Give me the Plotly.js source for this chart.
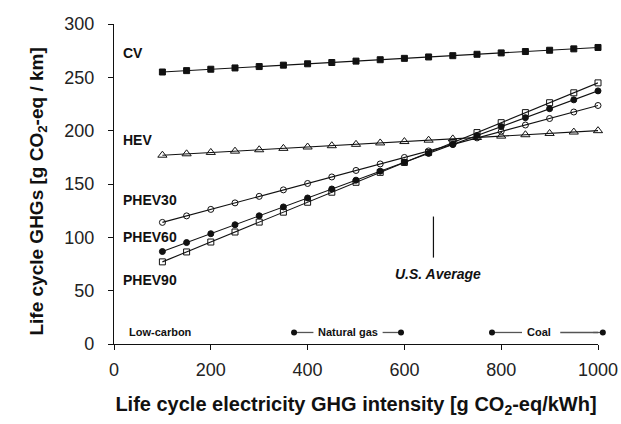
<!DOCTYPE html>
<html><head><meta charset="utf-8">
<script src="https://cdn.plot.ly/plotly-3.0.1.min.js"></script>
<style>html,body{margin:0;padding:0;background:#fff;}#chart{width:621px;height:424px;}</style>
</head><body><div id="chart"></div>
<script>
const intensity = [100,150,200,250,300,350,400,450,500,550,600,650,700,750,800,850,900,950,1000];
const cv     = [255,256.3,257.6,258.8,260.1,261.4,262.7,263.9,265.2,266.5,267.8,269.1,270.3,271.6,272.9,274.2,275.4,276.7,278];
const hev    = [177,178.3,179.6,180.8,182.1,183.4,184.7,185.9,187.2,188.5,189.8,191.1,192.3,193.6,194.9,196.2,197.4,198.7,200];
const phev30 = [114,120.1,126.2,132.3,138.4,144.5,150.5,156.6,162.7,168.8,174.9,181,187.1,193.2,199.3,205.3,211.4,217.5,223.6];
const phev60 = [86.7,95.1,103.4,111.8,120.2,128.5,136.9,145.3,153.6,162,170.4,178.7,187.1,195.5,203.8,212.2,220.6,228.9,237.3];
const phev90 = [77,86.3,95.6,105,114.3,123.6,132.9,142.3,151.6,160.9,170.2,179.6,188.9,198.2,207.5,216.9,226.2,235.5,244.8];
const seriesNames = ['CV','HEV','PHEV30','PHEV60','PHEV90'];
const labelY = [272.5,191,135,100,60];
const usAverage = 660;
const usLine = [81,119.5];
const gasRange = [372,593];
const coalRange = [781,1010];
const xTicks = [0,200,400,600,800,1000];
const yTicks = [0,50,100,150,200,250,300];
const xTitle = '<b>Life cycle electricity GHG intensity [g CO<sub>2</sub>-eq/kWh]</b>';
const yTitle = '<b>Life cycle GHGs [g CO<sub>2</sub>-eq / km]</b>';

const font = 'Liberation Sans, Arial, sans-serif';
const lineStyle = {color:'#111', width:1.1};
function tr(y, sym, size, fill){
  return {x:intensity, y:y, mode:'lines+markers', line:lineStyle,
    marker:{symbol:sym, size:size, color:fill, line:{color:'#111', width:1}},
    cliponaxis:false, showlegend:false, hoverinfo:'skip'};
}
const bandY = 10.8;
const xMax = 1000;
const data = [
  tr(cv,'square',6,'#111'),
  tr(hev,'triangle-up-open',8,'#111'),
  tr(phev30,'circle-open',6,'#111'),
  tr(phev60,'circle',6,'#111'),
  tr(phev90,'square-open',6,'#111'),
  {x:[usAverage,usAverage], y:usLine, mode:'lines', line:{color:'#111',width:1.2}, showlegend:false, hoverinfo:'skip'},
  {x:[gasRange[0],412,null,555,gasRange[1],null,coalRange[0],843,null,922,xMax],
   y:[bandY,bandY,null,bandY,bandY,null,bandY,bandY,null,bandY,bandY],
   mode:'lines', line:{color:'#555',width:1.3}, showlegend:false, hoverinfo:'skip', cliponaxis:false},
  {x:[gasRange[0],gasRange[1],coalRange[0]], y:[bandY,bandY,bandY], mode:'markers',
   marker:{color:'#111',size:6}, showlegend:false, hoverinfo:'skip', cliponaxis:false}
];
const ann = seriesNames.map((n,i)=>({x:14, y:labelY[i], xref:'x', yref:'y', text:'<b>'+n+'</b>', showarrow:false, xanchor:'left', yanchor:'middle', font:{family:font,size:14,color:'#111'}}));
ann.push({x:669, y:66, xref:'x', yref:'y', text:'<b><i>U.S. Average</i></b>', showarrow:false, xanchor:'center', yanchor:'middle', font:{family:font,size:14,color:'#111'}});
ann.push({x:26, y:bandY, xref:'x', yref:'y', text:'<b>Low-carbon</b>', showarrow:false, xanchor:'left', yanchor:'middle', font:{family:font,size:11,color:'#111'}});
ann.push({x:483, y:bandY, xref:'x', yref:'y', text:'<b>Natural gas</b>', showarrow:false, xanchor:'center', yanchor:'middle', font:{family:font,size:11,color:'#111'}});
ann.push({x:879, y:bandY, xref:'x', yref:'y', text:'<b>Coal</b>', showarrow:false, xanchor:'center', yanchor:'middle', font:{family:font,size:11,color:'#111'}});
ann.push({x:-0.158, y:0.5, xref:'paper', yref:'paper', yshift:-8, text:yTitle, textangle:-90, showarrow:false, xanchor:'center', yanchor:'middle', font:{family:font,size:19,color:'#111'}});

const shapes = [
  {type:'line', xref:'paper', yref:'y', x0:0.99, x1:coalRange[1]/xMax, y0:bandY, y1:bandY, line:{color:'#555',width:1.3}},
  {type:'circle', xref:'paper', yref:'y', xsizemode:'pixel', ysizemode:'pixel', xanchor:coalRange[1]/xMax, yanchor:bandY,
   x0:-3, x1:3, y0:-3, y1:3, fillcolor:'#111', line:{color:'#111',width:0}}
];

const layout = {
  width:621, height:424,
  margin:{l:114, r:23, t:24, b:80},
  paper_bgcolor:'#fff', plot_bgcolor:'#fff',
  showlegend:false,
  xaxis:{range:[0,xMax], tickvals:xTicks, ticks:'outside', ticklen:5, tickcolor:'#111', showline:true, linecolor:'#111', linewidth:1.2,
    showgrid:false, zeroline:false, tickfont:{family:font,size:18,color:'#222'}, ticklabelstandoff:4, automargin:false,
    title:{text:xTitle, font:{family:font,size:20,color:'#111'}, standoff:18}},
  yaxis:{range:[0,300], tickvals:yTicks, ticks:'outside', ticklen:5, tickcolor:'#111', showline:true, linecolor:'#111', linewidth:1.2,
    showgrid:false, zeroline:false, tickfont:{family:font,size:18,color:'#222'}, ticklabelstandoff:10, automargin:false},
  annotations:ann,
  shapes:shapes
};
Plotly.newPlot('chart', data, layout, {displayModeBar:false, staticPlot:true});
</script></body></html>
